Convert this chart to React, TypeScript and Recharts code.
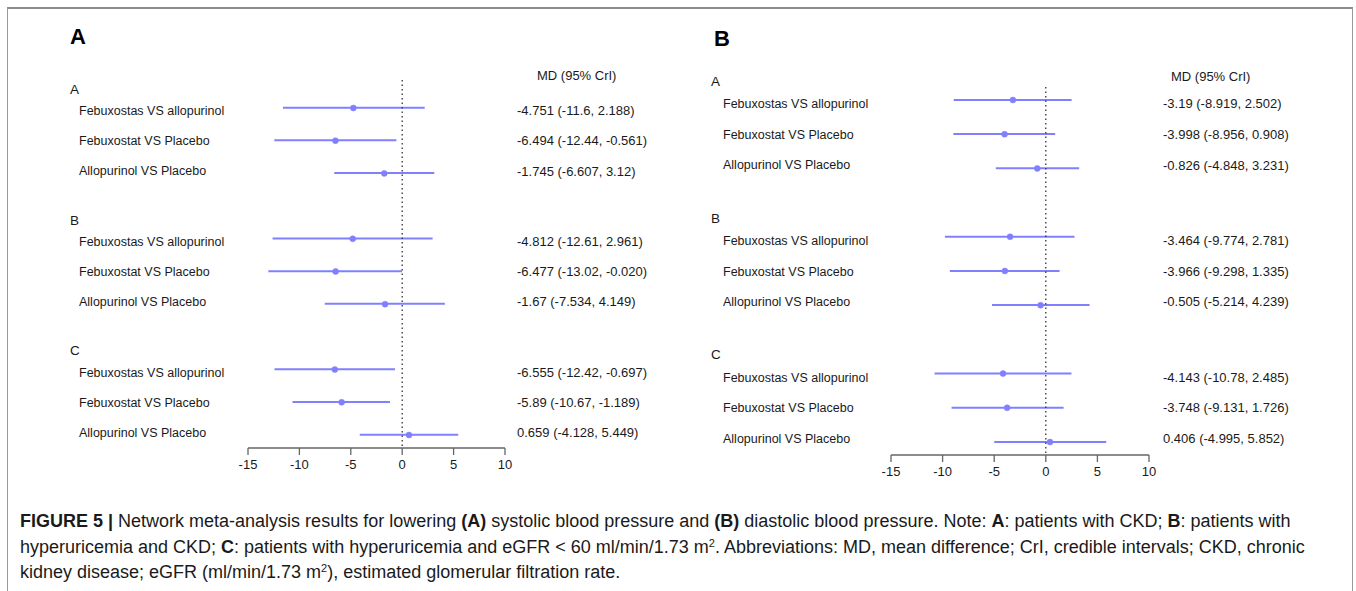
import React from "react";
import { ComposedChart, Bar, Line, XAxis, YAxis, ReferenceLine } from "recharts";

const FONT = "'Liberation Sans', Arial, Helvetica, sans-serif";
const BLUE = "#8080ff";

const GROUPS = ["A", "B", "C"];
const COMPARISONS = ["Febuxostas VS allopurinol", "Febuxostat VS Placebo", "Allopurinol VS Placebo"];
const X_TICKS = [-15, -10, -5, 0, 5, 10];

// (A) systolic blood pressure, MD with 95% CrI, groups A, B, C
const SBP_MD = ["-4.751", "-6.494", "-1.745", "-4.812", "-6.477", "-1.67", "-6.555", "-5.89", "0.659"];
const SBP_LOW = ["-11.6", "-12.44", "-6.607", "-12.61", "-13.02", "-7.534", "-12.42", "-10.67", "-4.128"];
const SBP_HIGH = ["2.188", "-0.561", "3.12", "2.961", "-0.020", "4.149", "-0.697", "-1.189", "5.449"];

// (B) diastolic blood pressure
const DBP_MD = ["-3.19", "-3.998", "-0.826", "-3.464", "-3.966", "-0.505", "-4.143", "-3.748", "0.406"];
const DBP_LOW = ["-8.919", "-8.956", "-4.848", "-9.774", "-9.298", "-5.214", "-10.78", "-9.131", "-4.995"];
const DBP_HIGH = ["2.502", "0.908", "3.231", "2.781", "1.335", "4.239", "2.485", "1.726", "5.852"];

type Row = {
  key: string; group?: string; label?: string; pos?: number;
  range: [number, number] | null; md: number | null; text?: string;
};

function buildRows(md: string[], lo: string[], hi: string[]): Row[] {
  const rows: Row[] = [];
  GROUPS.forEach((g, gi) => {
    if (gi > 0) rows.push({ key: `gap${gi}`, range: null, md: null });
    COMPARISONS.forEach((c, ci) => {
      const i = gi * COMPARISONS.length + ci;
      rows.push({
        key: `${g}${ci}`, group: ci === 0 ? g : undefined, label: c, pos: ci,
        range: [Number(lo[i]), Number(hi[i])], md: Number(md[i]),
        text: `${md[i]} (${lo[i]}, ${hi[i]})`,
      });
    });
  });
  return rows;
}

type Cfg = {
  left: number; width: number; plotL: number; plotR: number; plotT: number; plotB: number;
  padB: number; refTop: number; headerX: number; labelX: number; valueX: number; squeeze: number;
};

const H = 500;

function Forest({ rows, cfg }: { rows: Row[]; cfg: Cfg }) {
  const renderTick = (p: any) => {
    const r = rows.find((d) => d.key === p.payload.value);
    if (!r || !r.label) return <g />;
    const off = (1 - (r.pos ?? 1)) * cfg.squeeze;
    const y = p.y;
    return (
      <g fontFamily={FONT} fill="#1a1a1a">
        {r.group && (
          <text x={cfg.headerX - cfg.left} y={y - 19} dy="0.36em" fontSize={13.5}>{r.group}</text>
        )}
        <text x={cfg.labelX - cfg.left} y={y + off} dy="0.36em" fontSize={12.5}>{r.label}</text>
        <text x={cfg.valueX - cfg.left} y={y + off} dy="0.36em" fontSize={13}>{r.text}</text>
      </g>
    );
  };

  return (
    <div style={{ position: "absolute", left: cfg.left, top: 0 }}>
      <ComposedChart
        width={cfg.width}
        height={H}
        data={rows}
        layout="vertical"
        margin={{ top: cfg.plotT, bottom: H - cfg.plotB - 30, left: 0, right: cfg.left + cfg.width - cfg.plotR }}
      >
        <XAxis
          type="number"
          domain={[-15, 10]}
          ticks={X_TICKS}
          allowDataOverflow
          height={30}
          stroke="#666"
          strokeWidth={1.3}
          tickSize={7}
          tickMargin={5}
          tick={{ fontSize: 13, fill: "#1a1a1a", fontFamily: FONT }}
        />
        <YAxis
          type="category"
          dataKey="key"
          width={cfg.plotL - cfg.left}
          axisLine={false}
          tickLine={false}
          interval={0}
          padding={{ top: 0, bottom: cfg.padB }}
          tick={renderTick}
        />
        <ReferenceLine
          x={0}
          shape={(p: any) => (
            <line
              x1={p.x1} x2={p.x2}
              y1={cfg.refTop} y2={Math.max(p.y1, p.y2)}
              stroke="#333" strokeWidth={1.3} strokeDasharray="1.5 3"
            />
          )}
        />
        <Bar dataKey="range" fill={BLUE} barSize={2} isAnimationActive={false} />
        <Line
          dataKey="md"
          stroke="none"
          dot={{ r: 3, fill: BLUE, stroke: BLUE, strokeWidth: 0.5 }}
          activeDot={false}
          isAnimationActive={false}
        />
      </ComposedChart>
    </div>
  );
}

const LEFT_CFG: Cfg = {
  left: 0, width: 680, plotL: 248, plotR: 505, plotT: 91.65, plotB: 448, padB: -3.35,
  refTop: 80, headerX: 70, labelX: 79, valueX: 517, squeeze: 2.5,
};
const RIGHT_CFG: Cfg = {
  left: 680, width: 676, plotL: 891, plotR: 1149, plotT: 82.9, plotB: 455, padB: -4.1,
  refTop: 87, headerX: 711, labelX: 723, valueX: 1163, squeeze: 3.5,
};

const capStyle: React.CSSProperties = {
  position: "absolute", left: 20, whiteSpace: "nowrap", fontSize: 18, lineHeight: "24px",
  color: "#1a1a1a", fontFamily: FONT,
};
const supStyle: React.CSSProperties = { fontSize: 11, lineHeight: 0, verticalAlign: "0.55em" };

export default function App() {
  const sbp = buildRows(SBP_MD, SBP_LOW, SBP_HIGH);
  const dbp = buildRows(DBP_MD, DBP_LOW, DBP_HIGH);
  return (
    <div style={{ position: "absolute", left: 0, top: 0, width: 1356, height: 591, background: "#fff", overflow: "hidden", fontFamily: FONT }}>
      <div style={{ position: "absolute", left: 7, top: 7, width: 1344, height: 620, borderTop: "2px solid #8c8c8c", borderLeft: "1.5px solid #999", borderRight: "1.5px solid #999" }} />
      <Forest rows={sbp} cfg={LEFT_CFG} />
      <Forest rows={dbp} cfg={RIGHT_CFG} />
      <svg width={1356} height={120} style={{ position: "absolute", left: 0, top: 0, pointerEvents: "none" }}>
        <g fontFamily={FONT} fill="#000">
          <text x={70} y={44} fontSize={22} fontWeight="bold">A</text>
          <text x={714} y={46} fontSize={22} fontWeight="bold">B</text>
          <text x={537} y={79.6} fontSize={13} fill="#1a1a1a">MD (95% CrI)</text>
          <text x={1171} y={80.6} fontSize={13} fill="#1a1a1a">MD (95% CrI)</text>
        </g>
      </svg>
      <div style={{ ...capStyle, top: 509 }}>
        <b>FIGURE 5 |</b> Network meta-analysis results for lowering <b>(A)</b> systolic blood pressure and <b>(B)</b> diastolic blood pressure. Note: <b>A</b>: patients with CKD; <b>B</b>: patients with
      </div>
      <div style={{ ...capStyle, top: 535 }}>
        hyperuricemia and CKD; <b>C</b>: patients with hyperuricemia and eGFR &lt; 60 ml/min/1.73 m<sup style={supStyle}>2</sup>. Abbreviations: MD, mean difference; CrI, credible intervals; CKD, chronic
      </div>
      <div style={{ ...capStyle, top: 560 }}>
        kidney disease; eGFR (ml/min/1.73 m<sup style={supStyle}>2</sup>), estimated glomerular filtration rate.
      </div>
    </div>
  );
}
